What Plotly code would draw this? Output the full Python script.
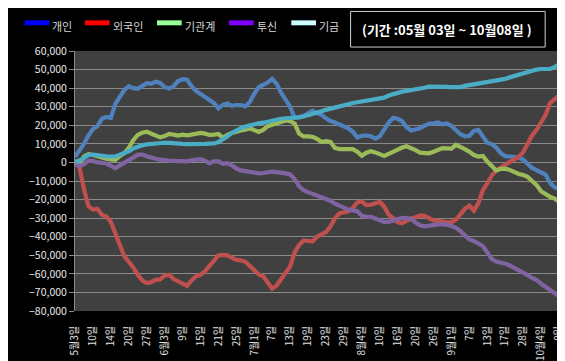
import plotly.graph_objects as go
import pandas as pd

# ---------------- data ----------------
series_names = ["개인", "외국인", "기관계", "투신", "기금"]
line_colors = ["#4F81BD", "#C0504D", "#9BBB59", "#8064A2", "#4BACC6"]
legend_colors = ["#0000FF", "#FF0000", "#99FF99", "#7F00FF", "#CCFFFF"]

holidays = ["2010-05-05", "2010-05-21", "2010-06-02", "2010-09-21", "2010-09-22", "2010-09-23"]
trading_days = [d for d in pd.bdate_range("2010-05-03", "2010-10-08")
                if d.strftime("%Y-%m-%d") not in holidays]
dates = [d.strftime("%Y-%m-%d") for d in trading_days]

tick_labels = ["5월3일", "10일", "14일", "20일", "27일", "6월3일", "9일", "15일", "21일", "25일",
               "7월1일", "7일", "13일", "19일", "23일", "29일", "8월4일", "10일", "16일", "20일",
               "26일", "9월1일", "7일", "13일", "17일", "28일", "10월4일", "8일"]

# values in thousands
individual_k = [3, 6.5, 10, 14.5, 18, 19.5, 23.5, 24.5, 24, 31.5,
                35, 39, 41, 40, 39.7, 41.4, 42.7, 42.3, 43.5, 42.8,
                40.5, 39.8, 41, 43.8, 44.8, 44.5, 41, 38.5, 37, 35.3,
                33.5, 32, 29.1, 31, 31.7, 30.5, 30.9, 30.9, 30.2, 32.5,
                37, 40.5, 41.8, 43, 45, 42.3, 37.5, 34, 30, 24,
                24.5, 25, 26.5, 27.9, 26.5, 25.6, 23.8, 22.3, 21.5, 20.6,
                19.5, 18.4, 16.5, 13.4, 14.3, 14.5, 14.1, 12.8, 14, 17.5,
                21.5, 24, 23.5, 22.2, 19, 17.2, 17.6, 18.4, 19.8, 20.8,
                21, 21.5, 20.5, 21, 19.6, 17.5, 15.2, 14.1, 14.3, 17,
                17.5, 14, 10.6, 9.9, 8, 5, 3.4, 3.2, 3, 2.6,
                1.5, -0.8, -3, -4.2, -5.2, -6.5, -11, -13.4, -14.3]

foreign_k = [-0.5, -2.5, -14.3, -23.5, -25.4, -25, -28.3, -29, -32, -38.5,
             -45, -50.5, -53.5, -56.5, -60.5, -63.5, -65, -64.5, -63.2, -63,
             -61, -60.5, -62.8, -64.2, -65.5, -66.5, -63.5, -61.3, -60.5, -58.6,
             -55.8, -52.5, -50, -49.8, -50, -51.3, -52.5, -52.7, -53.5, -55.7,
             -58.3, -60.3, -61.3, -64.5, -68, -66.3, -63, -60, -56, -48.5,
             -44.5, -42, -42.3, -42.5, -40, -38.8, -37.5, -34.5, -30, -27.5,
             -27, -26.3, -24.5, -21.5, -21, -23, -22.8, -22, -21.3, -23.8,
             -28.2, -30, -32.3, -32.8, -31.2, -30.2, -29.6, -28.5, -28.8, -30.3,
             -31.2, -31.5, -32, -32.3, -32.3, -30.8, -28, -25, -23.2, -26,
             -22, -15, -11.3, -7, -4.3, -2.5, -1.2, 0.3, 1.8, 3,
             5.5, 10, 14.5, 17.6, 22, 25.6, 32, 33.9, 36]

institution_k = [0, -1.5, 3.2, 4.4, 4, 3.3, 2.3, 2, 1.6, 1.4,
                 3.4, 5, 7.8, 12, 14.8, 16, 16.5, 15.6, 14.6, 13.5,
                 14.2, 15.3, 15, 14.5, 15, 14.6, 15, 15.5, 15.9, 15.5,
                 14.8, 15, 15.3, 13.3, 14.9, 15.8, 16.7, 17.2, 17.6, 18.4,
                 17.4, 16.4, 17.5, 19.5, 20.3, 21, 21.7, 22.6, 22.2, 21,
                 15.5, 14, 14, 13.8, 12.7, 11, 11.5, 11, 7.8, 7.2,
                 7.2, 7.4, 7.2, 5.8, 3.6, 5.2, 6, 5.4, 4.6, 3.5,
                 4.6, 5.8, 7.1, 8, 8.7, 7.8, 6.6, 5.3, 4.9, 4.9,
                 5.8, 6.8, 7.7, 7.6, 7.5, 9.5, 8.5, 7.2, 5.8, 4,
                 3.2, 3.5, 0.5, -2.2, -4.3, -3.5, -3.3, -4, -5.2, -6.2,
                 -6.8, -7.8, -10, -12.2, -15.5, -17.3, -18.5, -19.5, -21.2]

trust_k = [-0.4, -2, -0.9, 1, 0.8, 0, -0.2, -0.6, -1.8, -3.2,
           -1.6, -0.4, 1.4, 2.6, 4.2, 4.2, 3.3, 2.4, 2, 1.5,
           1, 0.9, 0.8, 0.6, 0.5, 0.6, 1.2, 1.5, 1.8, 1,
           -0.5, 0.6, 0.6, -0.8, -0.4, -1.6, -3.3, -4.3, -4.7, -5.2,
           -5.8, -5.9, -5.7, -5.3, -5, -5.2, -5.4, -5.9, -6.5, -9,
           -12.8, -15, -16, -17, -17.8, -18.7, -19.5, -20.6, -22.2, -23.4,
           -24.6, -25.4, -25.9, -26.3, -28.7, -29.3, -29.3, -30.4, -31.4, -32,
           -32, -31.2, -30.5, -29.9, -30, -30.5, -32.4, -33.8, -34.4, -34.3,
           -33.8, -33.2, -33.1, -33.5, -34.2, -35.2, -37, -39.3, -41.5, -42.3,
           -43.5, -45, -48.5, -52, -53.4, -53.8, -54.5, -55.5, -56.7, -58.5,
           -59.7, -60.7, -62.2, -63.3, -65.3, -66.8, -68.2, -70.3, -72]

fund_k = [0.3, 1, 2.4, 4, 4.2, 3.8, 3.5, 3.3, 3.2, 3.2,
          4.2, 5, 6, 7.5, 8.6, 9.2, 9.7, 10, 10.2, 10.4,
          10.6, 10.5, 10.2, 10.1, 10, 9.9, 9.8, 9.8, 9.9, 10,
          10.1, 10.2, 11, 12.2, 14, 15.9, 17.5, 18.5, 19.3, 20,
          20.8, 21.1, 21.4, 22, 22.5, 23, 23.5, 23.8, 23.8, 23.8,
          24.2, 24.7, 25.3, 26, 26.8, 27.5, 28.3, 29, 29.7, 30.3,
          30.9, 31.4, 32, 32.4, 32.9, 33.2, 33.7, 34.1, 34.5, 34.9,
          36, 36.8, 37.5, 38.1, 38.5, 38.8, 39.2, 39.6, 40.2, 40.8,
          40.9, 40.9, 40.8, 40.7, 40.6, 40.6, 40.6, 41.2, 41.6, 42,
          42.6, 43.2, 43.4, 43.6, 44, 44.4, 45, 45.8, 46.5, 47.3,
          48, 48.8, 49.6, 50, 50.3, 50.3, 50.3, 51.3, 52.7]

period_text = "(기간 :05월 03일 ~ 10월08일 )"

y_ticks = list(range(-80000, 60001, 10000))
all_series = [individual_k, foreign_k, institution_k, trust_k, fund_k]

# ---------------- figure ----------------
W, H = 565, 361
L, R, T, B = 67, 8, 43, 55
plot_w = W - L - R
plot_h = H - T - B

def px_x(p):
    return (p - L) / plot_w

def px_y(p):
    return (H - B - p) / plot_h

FONT = "Noto Sans CJK KR, Noto Sans, sans-serif"

fig = go.Figure()
for name, vals, col in zip(series_names, all_series, line_colors):
    fig.add_trace(go.Scatter(x=dates, y=[v * 1000 for v in vals], mode="lines", name=name,
                             line=dict(color=col, width=4.2), showlegend=False))

n = len(dates)
fig.update_layout(
    width=W, height=H,
    margin=dict(l=L, r=R, t=T, b=B),
    paper_bgcolor="#000000",
    plot_bgcolor="#404040",
    font=dict(family=FONT, color="#e8e8e8", size=10),
    xaxis=dict(type="category", range=[0, n - 1],
               tickmode="array", tickvals=dates[::4], ticktext=tick_labels,
               tickangle=-90, showgrid=False, showline=False, ticks="",
               zeroline=False, ticklabelstandoff=12,
               tickfont=dict(size=10, color="#e0e0e0")),
    xaxis2=dict(overlaying="x", anchor="free", position=80000 / 140000,
                range=[0, n - 1], tickmode="linear", tick0=0, dtick=1,
                ticks="outside", ticklen=3, tickcolor="#a8a8a8", tickwidth=1,
                showline=True, linecolor="#a8a8a8", linewidth=1,
                showticklabels=False, showgrid=False, zeroline=False),
    yaxis=dict(range=[-80000, 60000], tickmode="array", tickvals=y_ticks,
               tickformat=",", showgrid=True, gridcolor="#8a8a8a", gridwidth=1,
               zeroline=False, showline=True, linecolor="#8a8a8a",
               ticks="outside", ticklen=5, tickcolor="#8a8a8a",
               tickfont=dict(size=10.5, color="#e8e8e8")),
)

# custom legend
sw_x = [16, 77, 150, 223, 286]
shapes = []
annotations = []
for i, (name, col) in enumerate(zip(series_names, legend_colors)):
    x0 = sw_x[i]
    shapes.append(dict(type="rect", xref="paper", yref="paper",
                       x0=px_x(x0), x1=px_x(x0 + 25), y0=px_y(17), y1=px_y(12),
                       fillcolor=col, line=dict(width=0)))
    annotations.append(dict(xref="paper", yref="paper", x=px_x(x0 + 26), y=px_y(18),
                            text=name, showarrow=False, xanchor="left", yanchor="middle",
                            font=dict(size=11, color="#d8d8d8", family=FONT)))

shapes.append(dict(type="rect", xref="paper", yref="paper",
                   x0=px_x(346), x1=px_x(543), y0=px_y(39), y1=px_y(3),
                   line=dict(color="#d0d0d0", width=1), fillcolor="rgba(0,0,0,0)"))
annotations.append(dict(xref="paper", yref="paper", x=px_x(443.5), y=px_y(21),
                        text="<b>" + period_text + "</b>", showarrow=False,
                        xanchor="center", yanchor="middle",
                        font=dict(size=13, color="#ffffff", family=FONT)))

fig.update_layout(shapes=shapes, annotations=annotations)
fig.write_html("out.html")
